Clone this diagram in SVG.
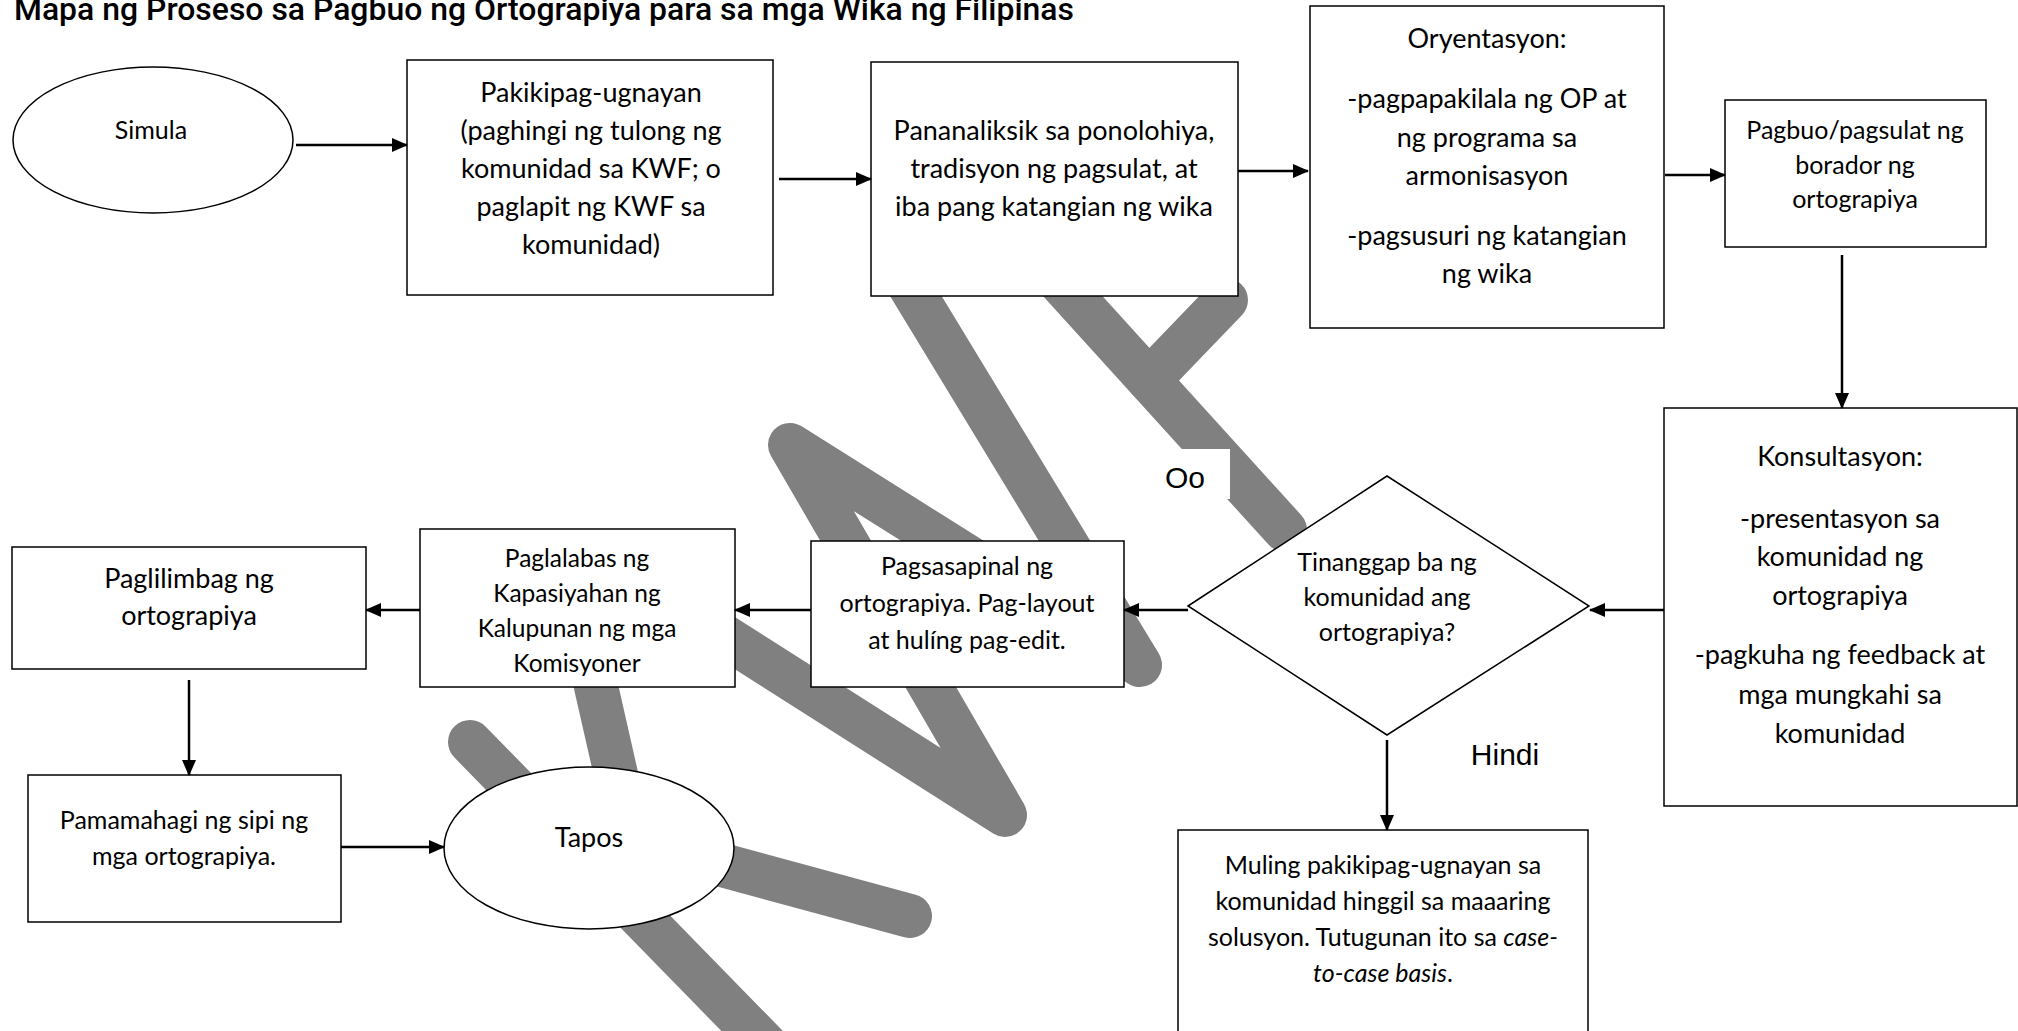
<svg xmlns="http://www.w3.org/2000/svg" width="2018" height="1031" viewBox="0 0 2018 1031">
<defs>
<style>
.bg{fill:#fff}
.wm{fill:none;stroke:#808080;stroke-width:44;stroke-linecap:round;stroke-linejoin:round}
.box{fill:#fff;stroke:#000;stroke-width:1.5}
.t{font-family:Lato,"Liberation Sans",sans-serif;fill:#000;text-anchor:middle}
.f27{font-size:27px}
.f25{font-size:25px}
.f24{font-size:24.5px}
.lab{font-family:"Liberation Sans",Arial,sans-serif;font-size:30px;fill:#000;text-anchor:middle}
.title{font-family:Roboto,"DejaVu Sans Condensed",sans-serif;font-weight:500;font-size:31px;fill:#000}
.con{fill:none;stroke:#000;stroke-width:2.5;marker-end:url(#ah)}
</style>
<marker id="ah" markerWidth="16" markerHeight="14" refX="15" refY="7" orient="auto" markerUnits="userSpaceOnUse"><path d="M0,0 L16,7 L0,14 z" fill="#000"/></marker>
</defs>
<rect class="bg" x="0" y="0" width="2018" height="1031"/>
<g id="watermark">
<polyline class="wm" points="900,270 1140,665 790,445 1005,815 620,570"/>
<polyline class="wm" points="1040,260 1285,530"/>
<polyline class="wm" points="1149,380 1226,300"/>
<polyline class="wm" points="470,742 800,1080"/>
<polyline class="wm" points="590,660 640,880"/>
<polyline class="wm" points="545,817 910,916"/>
</g>
<text class="title" x="14" y="20" textLength="1060" lengthAdjust="spacingAndGlyphs">Mapa ng Proseso sa Pagbuo ng Ortograpiya para sa mga Wika ng Filipinas</text>
<g id="n-simula">
<ellipse class="box" cx="153" cy="140" rx="140" ry="73"/>
<text class="t f25" x="151" y="139">Simula</text>
</g>
<g id="n-pakikipag">
<rect class="box" x="407" y="60" width="366" height="235"/>
<text class="t f27"><tspan x="591" y="102">Pakikipag-ugnayan</tspan><tspan x="591" y="140">(paghingi ng tulong ng</tspan><tspan x="591" y="178">komunidad sa KWF; o</tspan><tspan x="591" y="216">paglapit ng KWF sa</tspan><tspan x="591" y="254">komunidad)</tspan></text>
</g>
<g id="n-pananaliksik">
<rect class="box" x="871" y="62" width="367" height="234"/>
<text class="t f27"><tspan x="1054" y="140">Pananaliksik sa ponolohiya,</tspan><tspan x="1054" y="178">tradisyon ng pagsulat, at</tspan><tspan x="1054" y="216">iba pang katangian ng wika</tspan></text>
</g>
<g id="n-oryentasyon">
<rect class="box" x="1310" y="6" width="354" height="322"/>
<text class="t f27"><tspan x="1487" y="48">Oryentasyon:</tspan><tspan x="1487" y="108">-pagpapakilala ng OP at</tspan><tspan x="1487" y="147">ng programa sa</tspan><tspan x="1487" y="185">armonisasyon</tspan><tspan x="1487" y="245">-pagsusuri ng katangian</tspan><tspan x="1487" y="283">ng wika</tspan></text>
</g>
<g id="n-pagbuo">
<rect class="box" x="1725" y="100" width="261" height="147"/>
<text class="t f25"><tspan x="1855" y="139">Pagbuo/pagsulat ng</tspan><tspan x="1855" y="174">borador ng</tspan><tspan x="1855" y="208">ortograpiya</tspan></text>
</g>
<g id="n-konsultasyon">
<rect class="box" x="1664" y="408" width="353" height="398"/>
<text class="t f27"><tspan x="1840" y="466">Konsultasyon:</tspan><tspan x="1840" y="528">-presentasyon sa</tspan><tspan x="1840" y="566">komunidad ng</tspan><tspan x="1840" y="605">ortograpiya</tspan><tspan x="1840" y="664">-pagkuha ng feedback at</tspan><tspan x="1840" y="704">mga mungkahi sa</tspan><tspan x="1840" y="743">komunidad</tspan></text>
</g>
<g id="n-tinanggap">
<polygon class="box" points="1188,606 1387,476 1589,606 1387,735"/>
<text class="t f25"><tspan x="1387" y="571">Tinanggap ba ng</tspan><tspan x="1387" y="606">komunidad ang</tspan><tspan x="1387" y="641">ortograpiya?</tspan></text>
</g>
<g id="n-muling">
<rect class="box" x="1178" y="830" width="410" height="215"/>
<text class="t f25"><tspan x="1383" y="874">Muling pakikipag-ugnayan sa</tspan><tspan x="1383" y="910">komunidad hinggil sa maaaring</tspan><tspan x="1383" y="946">solusyon. Tutugunan ito sa <tspan font-style="italic">case-</tspan></tspan><tspan x="1383" y="982"><tspan font-style="italic">to-case basis</tspan>.</tspan></text>
</g>
<g id="n-pagsasapinal">
<rect class="box" x="811" y="541" width="313" height="146"/>
<text class="t f25"><tspan x="967" y="575">Pagsasapinal ng</tspan><tspan x="967" y="612">ortograpiya. Pag-layout</tspan><tspan x="967" y="649">at hulíng pag-edit.</tspan></text>
</g>
<g id="n-paglalabas">
<rect class="box" x="420" y="529" width="315" height="158"/>
<text class="t f24"><tspan x="577" y="567">Paglalabas ng</tspan><tspan x="577" y="602">Kapasiyahan ng</tspan><tspan x="577" y="637">Kalupunan ng mga</tspan><tspan x="577" y="672">Komisyoner</tspan></text>
</g>
<g id="n-paglilimbag">
<rect class="box" x="12" y="547" width="354" height="122"/>
<text class="t f27"><tspan x="189" y="588">Paglilimbag ng</tspan><tspan x="189" y="625">ortograpiya</tspan></text>
</g>
<g id="n-pamamahagi">
<rect class="box" x="28" y="775" width="313" height="147"/>
<text class="t f25"><tspan x="184" y="829">Pamamahagi ng sipi ng</tspan><tspan x="184" y="865">mga ortograpiya.</tspan></text>
</g>
<g id="n-tapos">
<ellipse class="box" cx="589" cy="848" rx="145" ry="81"/>
<text class="t f27" x="589" y="847">Tapos</text>
</g>
<g id="connectors">
<line class="con" x1="296" y1="145" x2="407" y2="145"/>
<line class="con" x1="779" y1="179" x2="871" y2="179"/>
<line class="con" x1="1238" y1="171" x2="1308" y2="171"/>
<line class="con" x1="1665" y1="175" x2="1725" y2="175"/>
<line class="con" x1="1842" y1="255" x2="1842" y2="408"/>
<line class="con" x1="1664" y1="610" x2="1590" y2="610"/>
<line class="con" x1="1387" y1="740" x2="1387" y2="830"/>
<line class="con" x1="1188" y1="610" x2="1124" y2="610"/>
<line class="con" x1="811" y1="610" x2="735" y2="610"/>
<line class="con" x1="420" y1="610" x2="366" y2="610"/>
<line class="con" x1="189" y1="680" x2="189" y2="775"/>
<line class="con" x1="341" y1="847" x2="444" y2="847"/>
</g>
<g id="labels">
<rect class="bg" x="1158" y="449" width="72" height="50"/>
<text class="lab" x="1185" y="488">Oo</text>
<text class="lab" x="1505" y="765">Hindi</text>
</g>
</svg>
